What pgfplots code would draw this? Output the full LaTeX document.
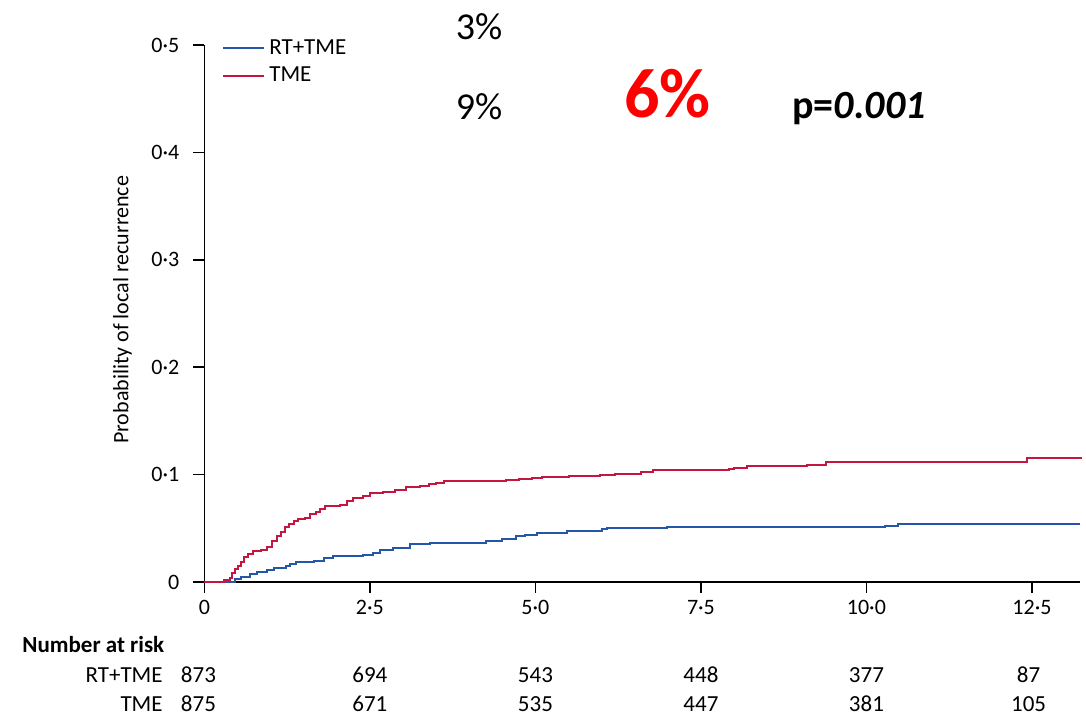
\documentclass[border=0pt]{standalone}
\usepackage{pgfplots}
\pgfplotsset{compat=1.18}
\usepackage{fontspec}
\setmainfont{Carlito}
\definecolor{rtblue}{RGB}{38,86,168}
\definecolor{tmered}{RGB}{196,22,62}
\begin{document}
\begin{tikzpicture}
\path[use as bounding box] (0,0) rectangle (543pt,358.5pt);
\begin{axis}[
 at={(102.2pt,67.5pt)}, anchor=south west, scale only axis,
 width=437.6pt, height=268.5pt,
 xmin=0, xmax=13.22, ymin=0, ymax=0.5,
 axis x line=bottom, axis y line=left,
 axis line style={-, line width=0.9pt},
 tick align=outside, major tick length=5.5pt,
 tick style={line width=0.9pt, black},
 xtick={0,2.5,5,7.5,10,12.5},
 xticklabels={0,2·5,5·0,7·5,10·0,12·5},
 ytick={0,0.1,0.2,0.3,0.4,0.5},
 yticklabels={0,0·1,0·2,0·3,0·4,0·5},
 ticklabel style={font=\fontsize{11}{13}\selectfont},
 yticklabel style={xshift=-3.5pt},
 ylabel={Probability of local recurrence},
 ylabel style={at={(axis description cs:-0.0936,0.507)}, anchor=center, font=\fontsize{11}{13}\selectfont},
 clip=false,
 legend style={draw=none, fill=none, at={(axis description cs:0.02,1.0186)}, anchor=north west,
   font=\fontsize{11.5}{13}\selectfont, inner sep=0pt, row sep=1pt},
 legend cell align=left,
 legend image code/.code={\draw[#1, line width=1pt] (0pt,0pt) -- (20.5pt,0pt);},
]
\addplot[const plot, color=rtblue, line width=1pt] coordinates {
(0,0) (0.44,0) (0.46,0.003) (0.55,0.005) (0.69,0.007) (0.8,0.009) (0.94,0.011)
(1.05,0.013) (1.24,0.015) (1.30,0.017) (1.39,0.019) (1.65,0.020) (1.80,0.022)
(1.95,0.024) (2.40,0.025) (2.55,0.027) (2.65,0.030) (2.85,0.032) (3.10,0.035)
(3.41,0.0367) (4.26,0.038) (4.5,0.040) (4.71,0.043) (4.85,0.044) (5.02,0.046)
(5.47,0.0475) (6.0,0.049) (6.08,0.050) (6.98,0.0512) (10.28,0.0521) (10.47,0.0544)
(13.22,0.0544)};
\addlegendentry{RT+TME}
\addplot[const plot, color=tmered, line width=1pt] coordinates {
(0,0) (0.30,0.002) (0.38,0.004) (0.42,0.008) (0.46,0.012) (0.50,0.015) (0.55,0.019)
(0.60,0.023) (0.66,0.026) (0.73,0.029) (0.85,0.030) (0.95,0.033) (1.02,0.038)
(1.09,0.043) (1.16,0.047) (1.22,0.051) (1.28,0.054) (1.36,0.057) (1.42,0.059)
(1.52,0.060) (1.60,0.063) (1.68,0.065) (1.75,0.068) (1.82,0.071) (2.05,0.072)
(2.15,0.075) (2.25,0.078) (2.40,0.080) (2.50,0.083) (2.70,0.084) (2.88,0.086)
(3.05,0.088) (3.25,0.089) (3.40,0.091) (3.50,0.0925) (3.62,0.094) (4.55,0.095)
(4.75,0.096) (4.95,0.097) (5.10,0.098) (5.5,0.099) (5.97,0.100) (6.2,0.101)
(6.6,0.1025) (6.78,0.104) (7.92,0.105) (8.0,0.1065) (8.19,0.1077) (9.10,0.109)
(9.39,0.1117) (12.43,0.1158) (13.25,0.1158)};
\addlegendentry{TME}
% numbers at risk
\addplot[draw=none, mark=none, forget plot, nodes near coords, point meta=explicit symbolic,
  nodes near coords align={anchor=base},
  every node near coord/.append style={font=\fontsize{11.5}{13}\selectfont, anchor=base, inner sep=0pt}]
  table[meta=n] {
x y n
-0.09 -0.0936 873
2.5 -0.0936 694
5.0 -0.0936 543
7.5 -0.0936 448
10.0 -0.0936 377
12.45 -0.0936 87
-0.09 -0.1203 875
2.5 -0.1203 671
5.0 -0.1203 535
7.5 -0.1203 447
10.0 -0.1203 381
12.45 -0.1203 105
};
\node[anchor=base west, inner sep=0pt, font=\bfseries\fontsize{11.5}{13}\selectfont] at (axis cs:-2.755,-0.0654) {Number at risk};
\node[anchor=base east, inner sep=0pt, font=\fontsize{11.5}{13}\selectfont] at (axis cs:-0.625,-0.0936) {RT+TME};
\node[anchor=base east, inner sep=0pt, font=\fontsize{11.5}{13}\selectfont] at (axis cs:-0.625,-0.1203) {TME};
\end{axis}
\node[anchor=center, inner sep=0pt, font=\fontsize{19}{22}\selectfont] at (239.5pt,345pt) {3\%};
\node[anchor=center, inner sep=0pt, font=\fontsize{19}{22}\selectfont] at (239.5pt,305pt) {9\%};
\node[anchor=center, inner sep=0pt, text=red, font=\bfseries\fontsize{35}{40}\selectfont] at (333.75pt,311.85pt) {6\%};
\node[anchor=base west, inner sep=0pt, font=\bfseries\fontsize{20}{23}\selectfont] at (396pt,299.3pt) {p=\textit{0.001}};
\end{tikzpicture}
\end{document}
